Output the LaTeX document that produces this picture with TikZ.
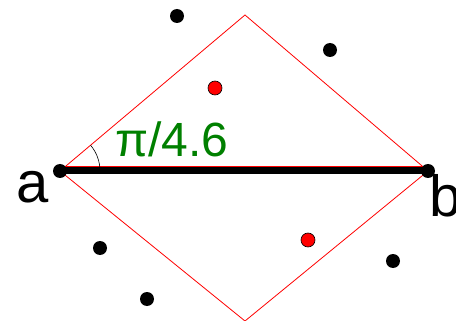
\documentclass[tikz,border=0pt]{standalone}
\usepackage{fontspec}
\setmainfont{Liberation Sans}
\usepackage{tikz}
\usetikzlibrary{positioning}
\definecolor{anglegreen}{RGB}{0, 128, 0}

\begin{document}
\begin{tikzpicture}[
            x=1pt, y=-1pt,
            blackdot/.style={circle, fill=black, inner sep=0pt, minimum size=14pt},
            reddot/.style={circle, draw=black, fill=red, line width=0.6pt, inner sep=0pt, minimum size=14pt},
            endlabel/.style={inner sep=0pt, anchor=base west, font=\fontsize{58}{60}\selectfont},
            anglelabel/.style={inner sep=0pt, anchor=base west, text=anglegreen, font=\fontsize{48}{50}\selectfont},
            edge/.style={red, line width=0.8pt}
        ]
            \useasboundingbox (0,0) rectangle (456,321);

            \coordinate (top) at (245,15);
            \coordinate (bot) at (245,321);

            % the rhombus over the segment
            \draw[edge] (60,171) -- (top) -- (428,171) -- (bot) -- cycle;
            \draw[edge] (60,166) -- (428,166);

            \node[blackdot] (a) at (60,171) {};
            \node[blackdot] (b) at (428,171) {};
            \draw[line width=7pt] (a.center) -- (b.center);

            \draw[line width=0.6pt] ([shift={(40,0)}]a.center) arc[start angle=0, end angle=-40, radius=40];

            \node[endlabel] (alabel) at (16,203) {a};
            \node[endlabel] (blabel) at (429,217) {b};
            \node[anglelabel] (angle) at (115,157) {π/4.6};

            % points around
            \node[blackdot] (p1) at (177,16) {};
            \node[blackdot] (p2) at (330,50) {};
            \node[blackdot] (p3) at (100,248) {};
            \node[blackdot] (p4) at (147,299) {};
            \node[blackdot] (p5) at (393,261) {};
            \node[reddot] (q1) at (215,88) {};
            \node[reddot] (q2) at (308,240) {};
        \end{tikzpicture}
\end{document}
